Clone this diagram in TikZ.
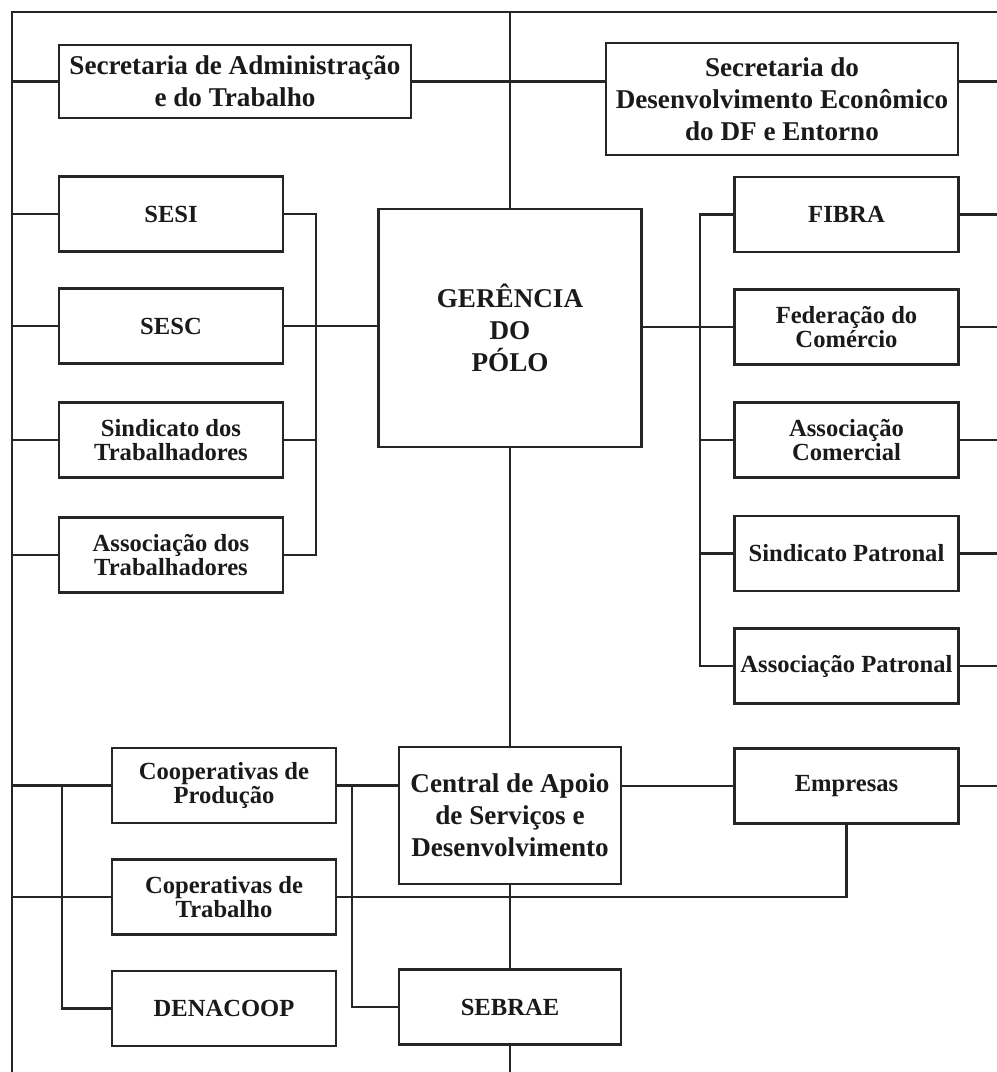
\documentclass[tikz,border=0pt]{standalone}
\usepackage{fontspec}
\setmainfont{Liberation Serif}
\usepackage{tikz}
\usetikzlibrary{positioning}
\definecolor{boxstroke}{HTML}{262626}
\definecolor{textink}{HTML}{1A1A1A}

\tikzset{
  orgbox/.style={draw=boxstroke, line width=1.6pt, fill=white, inner sep=0pt, align=center,
    text=textink, font=\fontsize{17.5}{16.5}\selectfont\bfseries,
    minimum width=5.6cm, minimum height=1.87cm},
  bigbox/.style={orgbox, font=\fontsize{19.3}{22.7}\selectfont\bfseries},
  link/.style={draw=boxstroke, line width=1.6pt},
}

\begin{document}
\begin{tikzpicture}[x=0.025cm, y=-0.025cm]
  \useasboundingbox (0,0) rectangle (997,1072);
  \coordinate (topleft) at (12,12);
  \coordinate (botleft) at (12,1072);
  \coordinate (edge) at (997,0);
  \coordinate (lbus) at (316,0);
  \coordinate (rbus) at (700,0);
  \coordinate (mbus) at (352,0);
  \coordinate (cbus) at (62,0);

  % Secretarias
  \node[bigbox, minimum width=8.8cm, minimum height=1.83cm] (secadm) at (235,81.5) {Secretaria de Administração\\e do Trabalho};
  \node[bigbox, minimum width=8.8cm, minimum height=2.8cm] (secdf) at (782,99) {Secretaria do\\Desenvolvimento Econômico\\do DF e Entorno};

  % Gerencia
  \node[bigbox, minimum width=6.575cm, minimum height=5.95cm] (gerencia) at (510,328) {GERÊNCIA\\DO\\PÓLO};

  % Trabalhadores
  \foreach \name/\y/\txt in {sesi/214/SESI, sesc/326/SESC,
      sindtrab/440/{Sindicato dos\\Trabalhadores}, assoctrab/555/{Associação dos\\Trabalhadores}} {
    \node[orgbox] (\name) at (171,\y) {\txt};
  }

  % Patronal
  \foreach \name/\y/\txt in {fibra/214.5/FIBRA, fedcom/327/{Federação do\\Comércio},
      assoccom/440/{Associação\\Comercial}, sindpat/553.5/Sindicato Patronal,
      assocpat/666/Associação Patronal, empresas/786/Empresas} {
    \node[orgbox] (\name) at (846.5,\y) {\txt};
  }

  % Cooperativas
  \foreach \name/\y/\txt in {coopprod/785.5/{Cooperativas de\\Produção},
      cooptrab/897/{Coperativas de\\Trabalho}, denacoop/1008.5/DENACOOP} {
    \node[orgbox] (\name) at (224,\y) {\txt};
  }

  % Central
  \node[bigbox, minimum width=5.55cm, minimum height=3.43cm] (central) at (510,815.5) {Central de Apoio\\de Serviços e\\Desenvolvimento};
  \node[orgbox, minimum width=5.55cm] (sebrae) at (510,1007) {SEBRAE};

  % frame
  \draw[link] (botleft) -- (topleft) -- (edge |- topleft);
  \draw[link] (gerencia.north |- topleft) -- (gerencia.north);
  \draw[link] (secadm.east) -- (secadm.east -| secdf.west);
  \draw[link] (secdf.east |- secadm.east) -- (edge |- secadm.east);
  \foreach \name in {secadm, sesi, sesc, sindtrab, assoctrab, coopprod, cooptrab}
    \draw[link] (topleft |- \name.west) -- (\name.west);
  \foreach \name in {fibra, fedcom, assoccom, sindpat, assocpat, empresas}
    \draw[link] (\name.east) -- (edge |- \name.east);

  % left bus
  \draw[link] (sesi.east) -- (lbus |- sesi.east) -- (lbus |- assoctrab.east) -- (assoctrab.east);
  \draw[link] (sesc.east) -- (gerencia.west |- sesc.east);
  \draw[link] (sindtrab.east) -- (lbus |- sindtrab.east);

  % right bus
  \draw[link] (fibra.west) -- (rbus |- fibra.west) -- (rbus |- assocpat.west) -- (assocpat.west);
  \draw[link] (gerencia.east |- fedcom.west) -- (fedcom.west);
  \foreach \name in {assoccom, sindpat}
    \draw[link] (\name.west) -- (rbus |- \name.west);

  % lower part
  \draw[link] (gerencia.south) -- (central.north);
  \draw[link] (central.south) -- (sebrae.north);
  \draw[link] (sebrae.south) -- (sebrae.south |- botleft);
  \draw[link] (coopprod.east) -- (coopprod.east -| central.west);
  \draw[link] (empresas.west -| central.east) -- (empresas.west);
  \draw[link] (cooptrab.east) -| (empresas.south);
  \draw[link] (mbus |- coopprod.east) |- (sebrae.west);
  \draw[link] (cbus |- coopprod.west) |- (denacoop.west);
\end{tikzpicture}
\end{document}
